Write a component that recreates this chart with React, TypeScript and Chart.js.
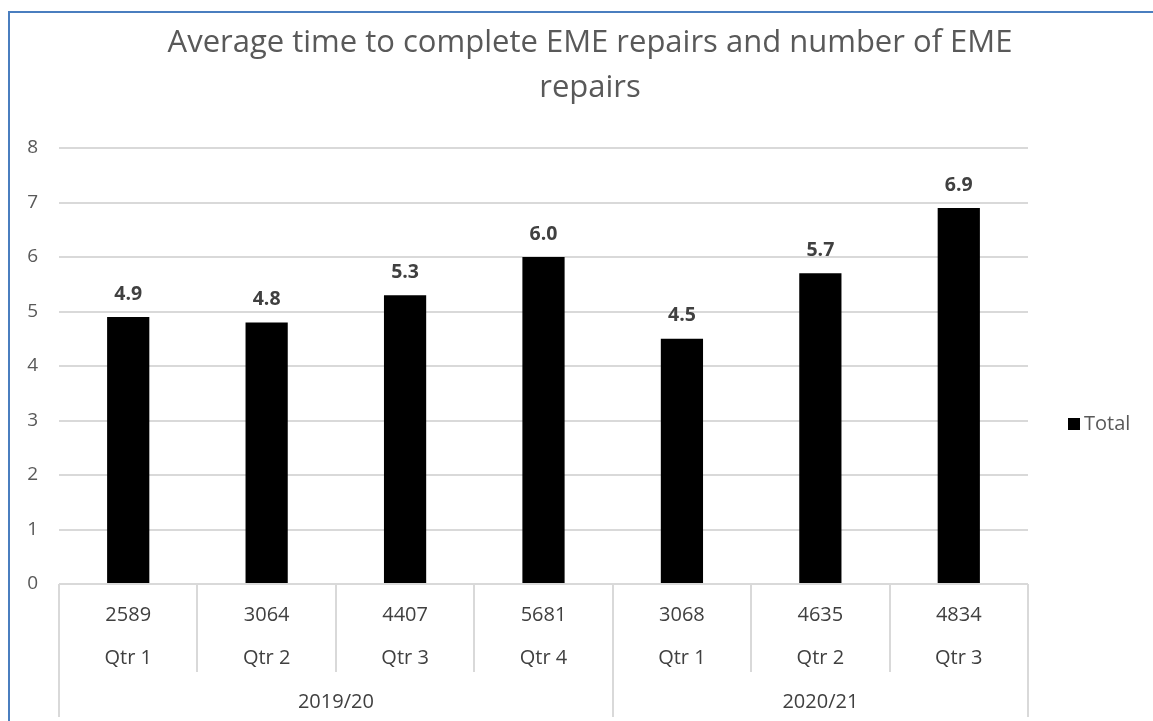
import { useEffect, useRef } from 'react';
import { Chart, registerables } from 'chart.js';

Chart.register(...registerables);

const TITLE_LINES = ['Average time to complete EME repairs and number of EME', 'repairs'];
const QUARTERS = ['Qtr 1', 'Qtr 2', 'Qtr 3', 'Qtr 4', 'Qtr 1', 'Qtr 2', 'Qtr 3'];
const REPAIR_COUNTS = ['2589', '3064', '4407', '5681', '3068', '4635', '4834'];
const YEARS = ['2019/20', '2020/21'];
const YEAR_SPANS = [4, 3];
const AVG_DAYS = [4.9, 4.8, 5.3, 6.0, 4.5, 5.7, 6.9];
const SERIES_LABEL = 'Total';
const Y_MIN = 0;
const Y_MAX = 8;
const Y_STEP = 1;

const FONT = '"Open Sans", "DejaVu Sans", sans-serif';
const GRID = '#d9d9d9';

const decorPlugin = {
  id: 'excelDecor',
  beforeDraw(chart: any) {
    const ctx = chart.ctx;
    ctx.save();
    ctx.fillStyle = '#ffffff';
    ctx.fillRect(0, 0, chart.width, chart.height);
    ctx.strokeStyle = '#4a7ebf';
    ctx.lineWidth = 2;
    ctx.beginPath();
    ctx.moveTo(9, chart.height);
    ctx.lineTo(9, 12);
    ctx.lineTo(chart.width, 12);
    ctx.stroke();
    ctx.restore();
  },
  afterDraw(chart: any) {
    const ctx = chart.ctx;
    const xs = chart.scales.x;
    const area = chart.chartArea;
    const meta = chart.getDatasetMeta(0);
    ctx.save();

    // title
    ctx.fillStyle = '#595959';
    ctx.font = `31px ${FONT}`;
    ctx.textAlign = 'center';
    ctx.textBaseline = 'middle';
    TITLE_LINES.forEach((line, i) => ctx.fillText(line, 590, 43 + i * 45));

    // data labels
    ctx.fillStyle = '#404040';
    ctx.font = `bold 19.5px ${FONT}`;
    meta.data.forEach((bar: any, i: number) => {
      ctx.fillText(AVG_DAYS[i].toFixed(1), bar.x, bar.y - 23);
    });

    // multi-level category axis
    const n = QUARTERS.length;
    const half = (xs.getPixelForValue(1) - xs.getPixelForValue(0)) / 2;
    const edge = (i: number) => xs.getPixelForValue(i) - half;
    const base = area.bottom;
    ctx.strokeStyle = GRID;
    ctx.lineWidth = 2;
    ctx.beginPath();
    ctx.moveTo(area.left, base);
    ctx.lineTo(area.right, base);
    const boundaries = new Set<number>([0]);
    let acc = 0;
    YEAR_SPANS.forEach((s) => { acc += s; boundaries.add(acc); });
    for (let i = 0; i <= n; i++) {
      const x = Math.round(edge(i));
      ctx.moveTo(x, base);
      ctx.lineTo(x, boundaries.has(i) ? base + 133 : base + 88);
    }
    ctx.stroke();

    ctx.fillStyle = '#404040';
    ctx.font = `20px ${FONT}`;
    for (let i = 0; i < n; i++) {
      const cx = xs.getPixelForValue(i);
      ctx.fillText(REPAIR_COUNTS[i], cx, base + 31);
      ctx.fillText(QUARTERS[i], cx, base + 74);
    }
    let start = 0;
    YEARS.forEach((y, gi) => {
      const end = start + YEAR_SPANS[gi];
      const cx = (edge(start) + edge(end)) / 2;
      ctx.fillText(y, cx, base + 118);
      start = end;
    });

    // legend
    ctx.fillStyle = '#000000';
    ctx.fillRect(1068, 418, 12, 12);
    ctx.fillStyle = '#595959';
    ctx.font = `20px ${FONT}`;
    ctx.textAlign = 'left';
    ctx.fillText(SERIES_LABEL, 1084, 424);

    ctx.restore();
  },
};

export default function App() {
  const ref = useRef<HTMLCanvasElement | null>(null);
  useEffect(() => {
    if (!ref.current) return;
    const chart = new Chart(ref.current, {
      type: 'bar',
      data: {
        labels: QUARTERS.map((q, i) => `${REPAIR_COUNTS[i]} ${q}`),
        datasets: [
          {
            label: SERIES_LABEL,
            data: AVG_DAYS,
            backgroundColor: '#000000',
            barPercentage: 0.305,
            categoryPercentage: 1,
          },
        ],
      },
      plugins: [decorPlugin],
      options: {
        animation: false,
        responsive: false,
        maintainAspectRatio: false,
        layout: { padding: { left: 26, right: 125, top: 148, bottom: 0 } },
        plugins: {
          legend: { display: false },
          title: { display: false },
          tooltip: { enabled: false },
        },
        scales: {
          x: {
            ticks: { display: false },
            grid: { display: false },
            border: { display: false },
            afterFit: (s: any) => { s.height = 137; },
          },
          y: {
            min: Y_MIN,
            max: Y_MAX,
            ticks: {
              stepSize: Y_STEP,
              color: '#595959',
              font: { family: FONT, size: 19 },
              padding: 21,
            },
            grid: { color: GRID, lineWidth: 2, drawTicks: false },
            border: { display: false },
            afterFit: (s: any) => { s.width = 33; },
          },
        },
      },
    });
    return () => chart.destroy();
  }, []);
  return (
    <div style={{ position: 'fixed', left: 0, top: 0, width: 1153, height: 721 }}>
      <canvas ref={ref} width={1153} height={721} style={{ width: 1153, height: 721, display: 'block' }} />
    </div>
  );
}
